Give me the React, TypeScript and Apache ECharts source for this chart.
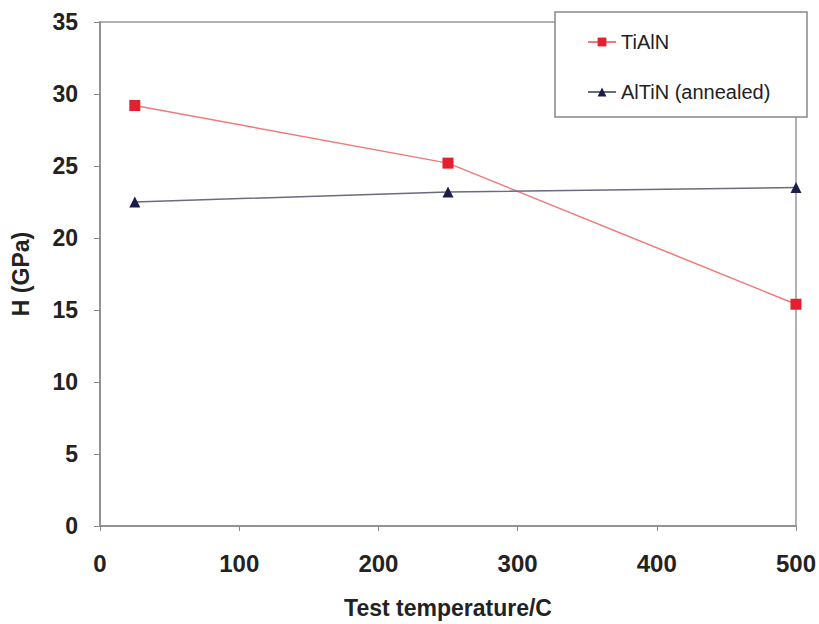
import React, { useEffect, useRef } from "react";
import * as echarts from "echarts";

const temps = [25, 250, 500];
const tialn = [29.2, 25.2, 15.4];
const altin = [22.5, 23.2, 23.5];
const seriesNames = ["TiAlN", "AlTiN (annealed)"];

export default function App() {
  const ref = useRef<HTMLDivElement>(null);
  useEffect(() => {
    const chart = echarts.init(ref.current!, null, { renderer: "svg" });
    const bold = "Liberation Sans, Arial, sans-serif";
    const legendFont = "Liberation Sans, Arial, sans-serif";
    chart.setOption({
      animation: false,
      backgroundColor: "#fff",
      grid: {
        left: 100,
        right: 23,
        top: 22,
        bottom: 96,
        show: true,
        borderColor: "#999",
        borderWidth: 1.5,
      },
      graphic: [
        {
          type: "rect",
          z: 100,
          shape: { x: 555, y: 12, width: 252, height: 105 },
          style: { fill: "#fff", stroke: "#888", lineWidth: 1.5 },
        },
      ],
      legend: {
        z: 200,
        orient: "vertical",
        left: 587,
        top: 32,
        padding: 0,
        itemGap: 30,
        itemWidth: 28,
        itemHeight: 11,
        textStyle: { fontFamily: legendFont, fontSize: 20, color: "#222", lineHeight: 20 },
        data: seriesNames,
      },
      xAxis: {
        type: "value",
        min: 0,
        max: 500,
        interval: 100,
        name: "Test temperature/C",
        nameLocation: "middle",
        nameGap: 70,
        nameTextStyle: { fontFamily: bold, fontSize: 23, fontWeight: "bold", color: "#222" },
        axisLine: { lineStyle: { color: "#888", width: 1.5 } },
        axisTick: { show: true, length: 5, lineStyle: { color: "#888" } },
        axisLabel: { margin: 25, fontFamily: bold, fontSize: 24, fontWeight: "bold", color: "#222" },
        splitLine: { show: false },
      },
      yAxis: {
        type: "value",
        min: 0,
        max: 35,
        interval: 5,
        name: "H (GPa)",
        nameLocation: "middle",
        nameGap: 68,
        nameTextStyle: { fontFamily: bold, fontSize: 23, fontWeight: "bold", color: "#222" },
        axisLine: { show: true, lineStyle: { color: "#888", width: 1.5 } },
        axisTick: { show: true, length: 6, lineStyle: { color: "#888" } },
        axisLabel: { margin: 22, fontFamily: bold, fontSize: 23, fontWeight: "bold", color: "#222" },
        splitLine: { show: false },
      },
      series: [
        {
          name: seriesNames[0],
          type: "line",
          data: temps.map((t, i) => [t, tialn[i]]),
          symbol: "rect",
          symbolSize: 11,
          itemStyle: { color: "#e3202e" },
          lineStyle: { color: "#f07a7a", width: 1.5 },
        },
        {
          name: seriesNames[1],
          type: "line",
          data: temps.map((t, i) => [t, altin[i]]),
          symbol: "triangle",
          symbolSize: 11,
          itemStyle: { color: "#1c1c48" },
          lineStyle: { color: "#6a6a80", width: 1.5 },
        },
      ],
    });
    return () => chart.dispose();
  }, []);
  return <div ref={ref} style={{ width: 819, height: 624, position: "absolute", left: 0, top: 0 }} />;
}
